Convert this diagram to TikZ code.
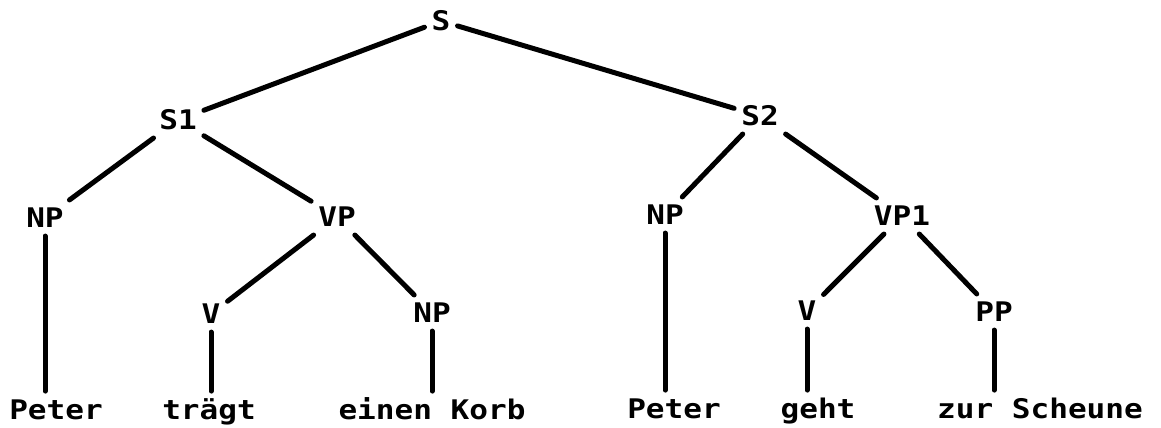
\documentclass[tikz,border=0pt]{standalone}
\usepackage{fontspec}
\newfontfamily\treefont[FakeStretch=1.15]{DejaVu Sans Mono Bold}
\begin{document}
\begin{tikzpicture}[x=1pt,y=-1pt,
  lab/.style={font=\treefont\fontsize{27}{27}\selectfont, text height=19.7pt, text depth=0pt, inner xsep=7pt, inner ysep=8pt},
  leaf/.style={lab, anchor=base},
  br/.style={line width=5pt, line cap=round}]
\useasboundingbox (0,0) rectangle (1161,428);
% internal nodes
\node[lab] (S)   at (441,21)  {S};
\node[lab] (S1)  at (178,120) {S1};
\node[lab] (S2)  at (760,116) {S2};
\node[lab] (NPa) at (45,218)  {NP};
\node[lab] (VP)  at (337,217) {VP};
\node[lab] (NPc) at (665,215) {NP};
\node[lab] (VP1) at (902,216) {VP1};
\node[lab] (Va)  at (211,314) {V};
\node[lab] (NPb) at (432,313) {NP};
\node[lab] (Vb)  at (807,311) {V};
\node[lab] (PP)  at (994,312) {PP};
% leaves
\node[leaf] (Pa)  at (56,419)   {Peter};
\node[leaf] (tr)  at (209,419)  {trägt};
\node[leaf] (ek)  at (432,419)  {einen Korb};
\node[leaf] (Pb)  at (674,418)  {Peter};
\node[leaf] (ge)  at (818,418)  {geht};
\node[leaf] (zs)  at (1040,418) {zur Scheune};
% branches
\draw[br] (S) -- (S1);
\draw[br] (S) -- (S2);
\draw[br] (S1) -- (NPa);
\draw[br] (S1) -- (VP);
\draw[br] (VP) -- (Va);
\draw[br] (VP) -- (NPb);
\draw[br] (S2) -- (NPc);
\draw[br] (S2) -- (VP1);
\draw[br] (VP1) -- (Vb);
\draw[br] (VP1) -- (PP);
\draw[br] (NPa) -- (NPa |- Pa.north);
\draw[br] (Va) -- (Va |- tr.north);
\draw[br] (NPb) -- (NPb |- ek.north);
\draw[br] (NPc) -- (NPc |- Pb.north);
\draw[br] (Vb) -- (Vb |- ge.north);
\draw[br] (PP) -- (PP |- zs.north);
\end{tikzpicture}
\end{document}
